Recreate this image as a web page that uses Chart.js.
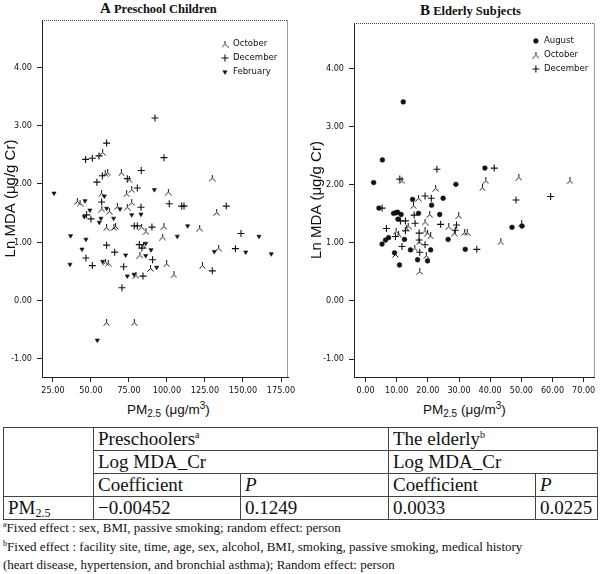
<!DOCTYPE html>
<html><head><meta charset="utf-8">
<script src="https://cdn.jsdelivr.net/npm/chart.js@4.4.1/dist/chart.umd.min.js"></script>
<style>
html,body{margin:0;padding:0;background:#fff;}
body{width:600px;height:574px;position:relative;overflow:hidden;color:#111;}
.panel{position:absolute;top:0;width:300px;height:400px;}
#wrapA{left:0}
#wrapB{left:300px}
.ptitle{position:absolute;top:0;font-family:"Liberation Serif","Times New Roman",serif;font-weight:bold;font-size:12.5px;white-space:nowrap;line-height:16px}
.ptitle .big{font-size:15px}
.xtitle{position:absolute;top:402px;font-family:"Liberation Sans",Arial,sans-serif;font-size:13.5px;white-space:nowrap;line-height:16px}
.xtitle sub{font-size:10px;vertical-align:-3px;line-height:0}
.xtitle sup{font-size:10px;vertical-align:5px;line-height:0}
table{position:absolute;left:3px;top:427px;border-collapse:collapse;table-layout:fixed;width:594px;font-family:"Liberation Serif","Times New Roman",serif;font-size:19px;}
td{border:1px solid #444;padding:0 0 0 4px;line-height:20px;white-space:nowrap;overflow:hidden}
tr{height:23px}
td sup{font-size:10px;vertical-align:7px;line-height:0}
td sub{font-size:12px;vertical-align:-3px;line-height:0}
.notes{position:absolute;left:3px;top:519px;font-family:"Liberation Serif","Times New Roman",serif;font-size:13px;line-height:18.5px;white-space:nowrap}
.notes sup{font-size:8px;vertical-align:5px;line-height:0}
</style>
</head>
<body>
<div class="ptitle" style="left:100px"><span class="big">A</span> Preschool Children</div>
<div class="ptitle" style="left:420px;top:2px"><span class="big">B</span> Elderly Subjects</div>
<div class="panel" id="wrapA"><canvas id="chartA" width="300" height="400"></canvas></div>
<div class="panel" id="wrapB"><canvas id="chartB" width="300" height="400"></canvas></div>
<div class="xtitle" style="left:127px">PM<sub>2.5</sub> (μg/m<sup>3</sup>)</div>
<div class="xtitle" style="left:423px">PM<sub>2.5</sub> (μg/m<sup>3</sup>)</div>
<table>
<colgroup><col style="width:90px"><col style="width:147px"><col style="width:148px"><col style="width:147px"><col style="width:62px"></colgroup>
<tr><td rowspan="3"></td><td colspan="2">Preschoolers<sup>a</sup></td><td colspan="2">The elderly<sup>b</sup></td></tr>
<tr><td colspan="2">Log MDA_Cr</td><td colspan="2">Log MDA_Cr</td></tr>
<tr><td>Coefficient</td><td><i>P</i></td><td>Coefficient</td><td><i>P</i></td></tr>
<tr><td>PM<sub>2.5</sub></td><td>−0.00452</td><td>0.1249</td><td>0.0033</td><td>0.0225</td></tr>
</table>
<div class="notes">
<div><sup>a</sup>Fixed effect : sex, BMI, passive smoking; random effect: person</div>
<div><sup>b</sup>Fixed effect : facility site, time, age, sex, alcohol, BMI, smoking, passive smoking, medical history</div>
<div>(heart disease, hypertension, and bronchial asthma); Random effect: person</div>
</div>
<script>
// ---- Data ----
const yTicks = [-1, 0, 1, 2, 3, 4];
const xTicksA = [25, 50, 75, 100, 125, 150, 175];
const xTicksB = [0, 10, 20, 30, 40, 50, 60, 70];
const monthsA = ['October', 'December', 'February'];
const monthsB = ['August', 'October', 'December'];

// Panel A: Preschool children [PM2.5, Ln MDA]
const octoberA = [[57.7,2.54],[59.4,2.18],[61.0,2.19],[70.0,2.19],[75.2,2.07],[129.8,2.10],[57.0,1.84],[73.5,1.83],[76.8,1.90],[100.9,1.86],[41.0,1.70],[42.8,1.67],[67.3,1.61],[73.9,1.60],[76.8,1.68],[57.2,1.57],[62.1,1.53],[60.3,1.25],[65.1,1.25],[66.2,1.27],[83.3,1.26],[86.2,1.18],[98.0,1.27],[97.2,1.09],[84.5,0.94],[82.2,0.78],[59.6,0.66],[61.4,0.64],[89.2,0.55],[99.8,0.63],[79.6,0.43],[104.6,0.44],[60.3,-0.38],[78.5,-0.38],[132.7,1.51],[121.5,1.24],[123.3,0.60],[134.0,0.90]];
const decemberA = [[92.1,3.13],[60.3,2.70],[46.5,2.42],[50.9,2.44],[55.3,2.48],[98.0,2.45],[57.5,2.14],[73.9,2.09],[83.1,2.23],[53.9,2.03],[80.5,1.93],[57.0,1.69],[82.9,1.60],[101.5,1.66],[109.7,1.62],[111.2,1.62],[139.0,1.62],[47.1,1.47],[50.0,1.40],[78.5,1.28],[80.5,1.28],[90.1,1.26],[148.7,1.15],[60.3,0.95],[81.8,0.96],[83.5,0.90],[65.6,0.83],[46.7,0.73],[50.9,0.60],[71.5,0.58],[90.5,0.70],[84.2,0.42],[70.4,0.22],[145.0,0.89],[129.8,0.51]];
const februaryA = [[25.7,1.84],[58.8,1.79],[91.7,1.90],[46.1,1.71],[69.1,1.57],[49.3,1.55],[60.3,1.58],[45.6,1.44],[55.5,1.34],[56.6,1.41],[64.9,1.41],[76.8,1.47],[82.9,1.48],[36.6,1.11],[46.7,1.05],[86.0,0.98],[44.1,0.88],[72.8,0.78],[86.0,0.77],[89.5,0.87],[36.2,0.62],[57.7,0.67],[93.2,0.57],[73.9,0.42],[78.3,0.45],[54.2,-0.68],[113.6,1.28],[106.8,1.10],[160.5,1.10],[131.1,0.84],[151.8,0.83],[168.6,0.80]];

// Panel B: Elderly subjects [PM2.5, Ln MDA]
const augustB = [[12.1,3.43],[5.4,2.43],[2.6,2.04],[29.0,2.01],[38.3,2.29],[15.1,1.75],[24.9,1.77],[21.2,1.65],[4.3,1.60],[9.0,1.51],[9.8,1.52],[10.3,1.53],[11.4,1.49],[17.0,1.51],[23.8,1.49],[10.4,1.41],[12.5,1.06],[5.3,0.98],[6.4,1.05],[7.4,1.09],[9.3,0.83],[10.9,0.62],[14.4,0.88],[16.7,0.71],[19.9,0.69],[20.9,0.88],[26.5,1.06],[32.0,0.89],[47.0,1.27],[50.2,1.29]];
const octoberB = [[11.7,2.07],[22.5,1.94],[37.5,1.95],[38.6,2.07],[49.2,2.13],[65.6,2.07],[17.0,1.77],[15.4,1.64],[20.6,1.49],[29.9,1.47],[13.7,1.29],[19.1,1.36],[26.7,1.28],[28.5,1.17],[31.8,1.18],[32.6,1.18],[9.8,1.20],[10.6,1.15],[13.2,1.25],[19.1,1.21],[19.9,1.17],[20.9,1.12],[9.6,0.80],[15.8,0.91],[17.4,0.51],[19.5,0.78],[43.4,1.02],[50.1,1.34],[17.2,1.02]];
const decemberB = [[11.0,2.10],[22.9,2.27],[41.3,2.29],[19.1,1.81],[21.1,1.77],[48.3,1.74],[59.4,1.80],[5.3,1.60],[15.6,1.48],[11.2,1.38],[12.8,1.38],[15.9,1.34],[24.1,1.32],[28.8,1.22],[29.2,1.31],[6.7,1.25],[12.8,1.21],[17.2,1.17],[9.6,1.11],[11.7,0.94],[17.4,0.84],[19.1,0.97],[35.7,0.89],[17.2,1.05]];

// ---- Styles ----
const INK = '#111';
const NARROW = '"Liberation Sans Narrow","DejaVu Sans Condensed","Liberation Sans",Arial,sans-serif';

function makeTripod() {
  const c = document.createElement('canvas');
  c.width = 7; c.height = 7;
  const g = c.getContext('2d');
  g.strokeStyle = INK; g.lineWidth = 1;
  g.beginPath();
  g.moveTo(3.5, 0); g.lineTo(3.5, 3.5);
  g.lineTo(0.5, 6.5);
  g.moveTo(3.5, 3.5); g.lineTo(6.5, 6.5);
  g.stroke();
  return c;
}
const tripod = makeTripod();

const STYLE = {
  October:  { pointStyle: tripod, pointRadius: 3.5, borderColor: INK, backgroundColor: INK, borderWidth: 1, rotation: 0 },
  December: { pointStyle: 'cross', pointRadius: 3.5, borderColor: INK, backgroundColor: INK, borderWidth: 1.1, rotation: 0 },
  February: { pointStyle: 'triangle', pointRadius: 2.4, borderColor: INK, backgroundColor: INK, borderWidth: 0.6, rotation: 180 },
  August:   { pointStyle: 'circle', pointRadius: 2.4, borderColor: INK, backgroundColor: INK, borderWidth: 0.5, rotation: 0 }
};

function ds(label, pts) {
  const s = STYLE[label];
  return {
    label: label,
    data: pts.map(p => ({ x: p[0], y: p[1] })),
    pointStyle: s.pointStyle, pointRadius: s.pointRadius, pointRotation: s.rotation,
    pointBorderColor: s.borderColor, pointBackgroundColor: s.backgroundColor,
    pointBorderWidth: s.borderWidth, showLine: false
  };
}

const framePlugin = {
  id: 'frame',
  afterDatasetsDraw(chart) {
    const { ctx, chartArea: a } = chart;
    ctx.save();
    ctx.lineWidth = 1;
    ctx.strokeStyle = '#444';
    ctx.setLineDash([1, 1]);
    ctx.beginPath(); ctx.moveTo(a.left, a.top + 0.5); ctx.lineTo(a.right, a.top + 0.5); ctx.stroke();
    ctx.setLineDash([]);
    ctx.strokeStyle = '#999';
    ctx.beginPath(); ctx.moveTo(a.right - 0.5, a.top); ctx.lineTo(a.right - 0.5, a.bottom); ctx.stroke();
    ctx.restore();
  }
};

const inLegendPlugin = {
  id: 'inLegend',
  afterDraw(chart, args, opts) {
    const { ctx, chartArea: a } = chart;
    ctx.save();
    ctx.font = '9.5px ' + NARROW;
    ctx.fillStyle = INK;
    ctx.textBaseline = 'middle';
    ctx.textAlign = 'left';
    opts.order.forEach((lab, i) => {
      const s = STYLE[lab];
      const x = a.right + opts.dx, y = a.top + opts.dy + i * opts.gap;
      ctx.strokeStyle = s.borderColor; ctx.fillStyle = s.backgroundColor;
      ctx.lineWidth = s.borderWidth;
      Chart.helpers.drawPoint(ctx, { pointStyle: s.pointStyle, rotation: s.rotation, radius: s.pointRadius, borderWidth: s.borderWidth }, x, y);
      ctx.fillStyle = INK;
      ctx.fillText(lab, x + 8, y);
    });
    ctx.restore();
  }
};

function makeChart(id, datasets, xr, xTicks, pad, yWidth, legend) {
  return new Chart(document.getElementById(id), {
    type: 'scatter',
    data: { datasets },
    plugins: [framePlugin, inLegendPlugin],
    options: {
      responsive: false, animation: false,
      layout: { padding: pad },
      plugins: {
        legend: { display: false }, tooltip: { enabled: false },
        inLegend: legend
      },
      scales: {
        x: {
          type: 'linear', min: xr[0], max: xr[1],
          afterBuildTicks: s => { s.ticks = xTicks.map(v => ({ value: v })); },
          afterFit: s => { s.height = 23; },
          ticks: { callback: v => Number(v).toFixed(2), font: { family: NARROW, size: 9 }, color: INK, maxRotation: 0, autoSkip: false, padding: 3 },
          grid: { display: true, drawOnChartArea: false, drawTicks: true, tickLength: 5, color: '#222', lineWidth: 1 },
          border: { display: true, color: '#222', width: 1 }
        },
        y: {
          type: 'linear', min: -1.31, max: xr[2],
          afterBuildTicks: s => { s.ticks = yTicks.map(v => ({ value: v })); },
          afterFit: s => { s.width = yWidth; },
          ticks: { callback: v => Number(v).toFixed(2), font: { family: NARROW, size: 9 }, color: INK, padding: 5 },
          grid: { display: true, drawOnChartArea: false, drawTicks: true, tickLength: 5, color: '#222', lineWidth: 1 },
          border: { display: true, color: '#222', width: 1 },
          title: { display: true, text: 'Ln MDA (μg/g Cr)', font: { family: '"Liberation Sans",Arial,sans-serif', size: 15 }, color: INK, padding: { top: 2, bottom: 0 } }
        }
      }
    }
  });
}

makeChart('chartA',
  [ds('October', octoberA), ds('December', decemberA), ds('February', februaryA)],
  [17.8, 179.6, 4.81], xTicksA,
  { top: 20, right: 12, left: 0, bottom: 0 }, 42,
  { order: monthsA, dx: -63, dy: 24, gap: 14 });

makeChart('chartB',
  [ds('August', augustB), ds('October', octoberB), ds('December', decemberB)],
  [-3.7, 73.6, 4.79], xTicksB,
  { top: 23, right: 2, left: 6, bottom: 0 }, 48,
  { order: monthsB, dx: -59, dy: 18, gap: 14 });
</script>
</body></html>
